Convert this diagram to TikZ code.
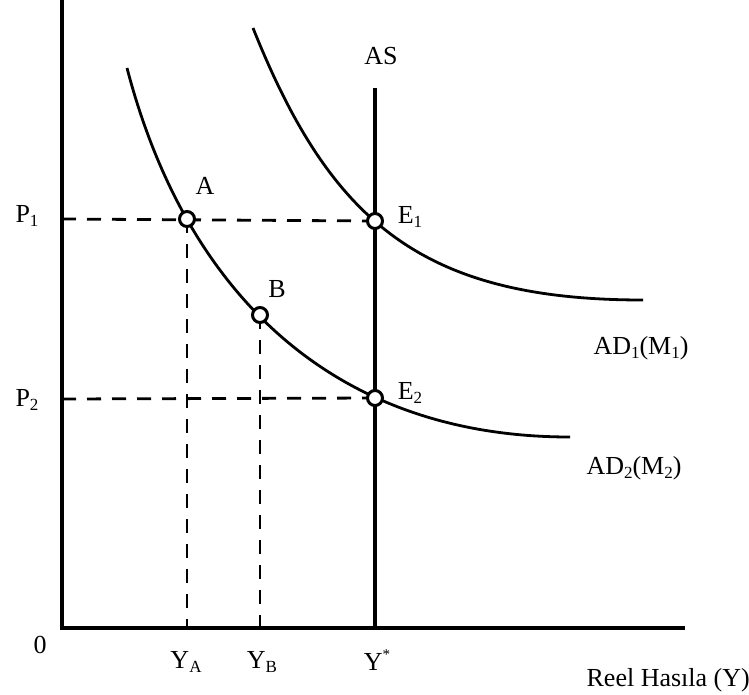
\documentclass[tikz,border=0pt]{standalone}
\usepackage{fontspec}
\setmainfont{Liberation Serif}
\newcommand\sbs[1]{\raisebox{-0.18em}{\fontsize{17}{17}\selectfont #1}}
\newcommand\sps[1]{\raisebox{0.45em}{\fontsize{15}{15}\selectfont #1}}
\begin{document}
\begin{tikzpicture}[x=1pt,y=-1pt,
  every node/.style={font=\fontsize{26}{30}\selectfont, inner sep=0pt},
  axisline/.style={line width=3.6pt},
  asline/.style={line width=4.6pt},
  curveline/.style={line width=2.8pt},
  dsh/.style={line width=2.8pt, dash pattern=on 14pt off 11pt},
  ptc/.style={circle, draw, line width=3pt, fill=white, minimum size=15pt, inner sep=0pt}]
\useasboundingbox (0,0) rectangle (749,694);
% coordinates
\coordinate (o) at (62,628);
\coordinate (ytop) at (62,0);
\coordinate (xend) at (685,628);
\coordinate (p1) at (62,219);
\coordinate (p2) at (62,399);
\coordinate (cA) at (187,219);
\coordinate (cB) at (260,315);
\coordinate (cE1) at (375,221);
\coordinate (cE2) at (375,398);
\coordinate (astop) at (375,88);
\coordinate (asbot) at (375,628);
\coordinate (ya) at (187,628);
\coordinate (yb) at (260,628);
\coordinate (ad2s) at (127,68);
\coordinate (ad2e) at (570,437);
\coordinate (ad1s) at (253,28);
\coordinate (ad1e) at (643,300);
% dashed guides
\draw[dsh] (p1) -- (cE1);
\draw[dsh] (p2) -- (cE2);
\draw[dsh] (cA) -- (ya);
\draw[dsh] (cB) -- (yb);
% AD curves
\draw[curveline] (ad2s) .. controls (185,290) and (330,437) .. (ad2e);
\draw[curveline] (ad1s) .. controls (330,220) and (420,300) .. (ad1e);
% AS
\draw[asline] (astop) -- (asbot);
% axes
\draw[axisline] (ytop) -- (o) -- (xend);
% points
\node[ptc] (A) at (cA) {};
\node[ptc] (B) at (cB) {};
\node[ptc] (E1) at (cE1) {};
\node[ptc] (E2) at (cE2) {};
% labels
\node (lA) at (205,186) {A};
\node (lB) at (277,289) {B};
\node (lE1) at (410,217) {E\sbs{1}};
\node (lE2) at (410,393) {E\sbs{2}};
\node (lAS) at (381,56) {AS};
\node (lP1) at (27,216) {P\sbs{1}};
\node (lP2) at (27,400) {P\sbs{2}};
\node (lAD1) at (641,348) {AD\sbs{1}(M\sbs{1})};
\node (lAD2) at (634,468) {AD\sbs{2}(M\sbs{2})};
\node (l0) at (40,645) {0};
\node (lYA) at (186,662) {Y\sbs{A}};
\node (lYB) at (262,662) {Y\sbs{B}};
\node (lYs) at (377,660) {Y\sps{*}};
\node[anchor=east] (lY) at (750,680) {Reel Hasıla (Y)};
\end{tikzpicture}
\end{document}
